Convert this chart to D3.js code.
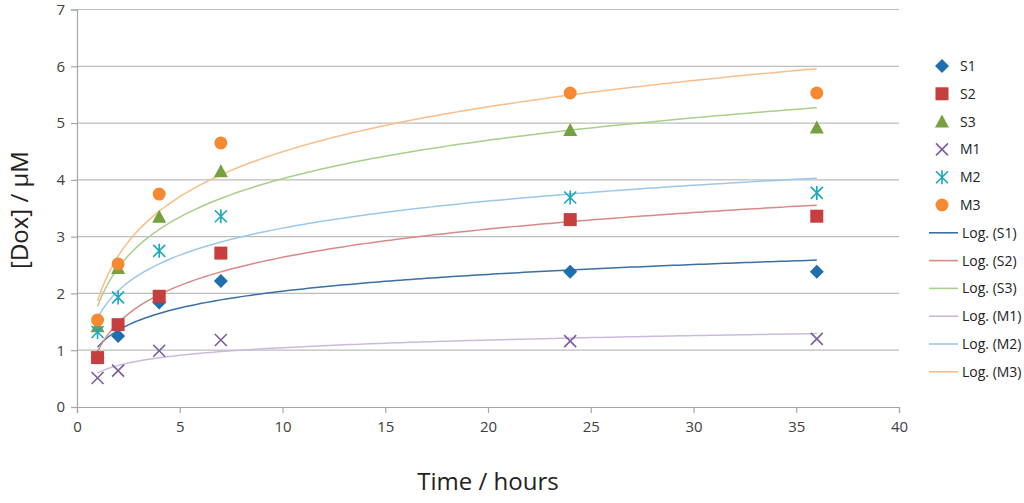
<!DOCTYPE html>
<html lang="en">
<head>
<meta charset="UTF-8">
<title>Dox release</title>
<script src="https://cdn.jsdelivr.net/npm/d3@7"></script>
<style>
body{margin:0;background:#fff;}
text{font-family:"Open Sans","Liberation Sans",sans-serif;}
</style>
</head>
<body>
<script>
// data
var times = [1, 2, 4, 7, 24, 36];
var S1 = [0.87, 1.25, 1.84, 2.22, 2.38, 2.38];
var S2 = [0.87, 1.45, 1.95, 2.71, 3.30, 3.36];
var S3 = [1.42, 2.45, 3.35, 4.15, 4.88, 4.92];
var M1 = [0.51, 0.64, 0.99, 1.18, 1.16, 1.20];
var M2 = [1.32, 1.93, 2.75, 3.36, 3.69, 3.77];
var M3 = [1.53, 2.52, 3.75, 4.65, 5.53, 5.53];
var seriesNames = ["S1", "S2", "S3", "M1", "M2", "M3"];
var xTicks = [0, 5, 10, 15, 20, 25, 30, 35, 40];
var yTicks = [0, 1, 2, 3, 4, 5, 6, 7];

var series = [
  {name: "S1", vals: S1, mark: "diamond",  col: "#1f6fae", line: "#3c6fa4"},
  {name: "S2", vals: S2, mark: "square",   col: "#c63e3e", line: "#d88a88"},
  {name: "S3", vals: S3, mark: "triangle", col: "#73a23e", line: "#a8d08a"},
  {name: "M1", vals: M1, mark: "cross",    col: "#7d5ca0", line: "#cdb9de"},
  {name: "M2", vals: M2, mark: "star",     col: "#1aa7c1", line: "#9cc8ec"},
  {name: "M3", vals: M3, mark: "circle",   col: "#f58a32", line: "#fbbd8a"}
];

var W = 1024, H = 503;
var svg = d3.select("body").append("svg").attr("width", W).attr("height", H);

var x = d3.scaleLinear().domain([0, 40]).range([77, 899]);
var y = d3.scaleLinear().domain([0, 7]).range([407, 9.5]);

// gridlines
svg.append("g").selectAll("line").data(yTicks.slice(1)).enter().append("line")
  .attr("x1", x(0)).attr("x2", x(40))
  .attr("y1", function(d){return y(d)}).attr("y2", function(d){return y(d)})
  .attr("stroke", "#bdbdbd").attr("stroke-width", 1.2);

var yAxis = svg.append("g").attr("transform", "translate(" + x(0) + ",0)")
  .call(d3.axisLeft(y).tickValues(yTicks).tickFormat(d3.format("d")).tickSize(6).tickPadding(6));
var xAxis = svg.append("g").attr("transform", "translate(0," + y(0) + ")")
  .call(d3.axisBottom(x).tickValues(xTicks).tickFormat(d3.format("d")).tickSize(6).tickPadding(8));
[yAxis, xAxis].forEach(function(a){
  a.select(".domain").attr("stroke", "#a6a6a6").attr("stroke-width", 1.2);
  a.selectAll(".tick line").attr("stroke", "#a6a6a6").attr("stroke-width", 1.2);
  a.selectAll("text").attr("fill", "#404040").style("font-size", "15px")
    .style("font-family", "'Open Sans','Liberation Sans',sans-serif");
});

// logarithmic trend lines (least squares on ln t, like the spreadsheet does)
function logFit(xs, ys){
  var lx = xs.map(Math.log);
  var mx = d3.mean(lx), my = d3.mean(ys);
  var b = d3.sum(lx, function(v, i){return (v - mx) * (ys[i] - my)}) /
          d3.sum(lx, function(v){return (v - mx) * (v - mx)});
  return {a: my - b * mx, b: b};
}
var curveX = d3.range(1, 36.01, 0.25);
var lineGen = d3.line().x(function(d){return x(d[0])}).y(function(d){return y(d[1])});
series.forEach(function(s){
  var f = logFit(times, s.vals);
  var pts = curveX.map(function(t){return [t, f.a + f.b * Math.log(t)]});
  svg.append("path").datum(pts).attr("d", lineGen)
    .attr("fill", "none").attr("stroke", s.line).attr("stroke-width", 1.5);
});

function drawMark(g, kind, col){
  if (kind === "diamond") g.append("path").attr("d", "M0,-7L7,0L0,7L-7,0Z").attr("fill", col);
  else if (kind === "square") g.append("rect").attr("x", -6.5).attr("y", -6.5).attr("width", 13).attr("height", 13).attr("fill", col);
  else if (kind === "triangle") g.append("path").attr("d", "M0,-7L7,6L-7,6Z").attr("fill", col);
  else if (kind === "circle") g.append("circle").attr("r", 6.5).attr("fill", col);
  else if (kind === "cross") g.append("path").attr("d", "M-6,-6L6,6M-6,6L6,-6").attr("stroke", col).attr("stroke-width", 1.6);
  else if (kind === "star") g.append("path").attr("d", "M-6,-6L6,6M-6,6L6,-6M0,-7L0,7").attr("stroke", col).attr("stroke-width", 1.6);
}

series.forEach(function(s){
  var g = svg.append("g");
  s.vals.forEach(function(v, i){
    var m = g.append("g").attr("transform", "translate(" + x(times[i]) + "," + y(v) + ")");
    drawMark(m, s.mark, s.col);
  });
});

// axis titles
svg.append("text").attr("x", x(20)).attr("y", 490).attr("text-anchor", "middle")
  .style("font-size", "24px").attr("fill", "#222").text("Time / hours");
svg.append("text").attr("transform", "translate(28,210) rotate(-90)").attr("text-anchor", "middle")
  .style("font-size", "24px").attr("fill", "#222").text("[Dox] / μM");

// legend
var leg = svg.append("g");
var rowH = 27.8, legTop = 66;
series.forEach(function(s, i){
  var g = leg.append("g").attr("transform", "translate(942," + (legTop + i * rowH) + ")");
  drawMark(g, s.mark, s.col);
  leg.append("text").attr("x", 960).attr("y", legTop + i * rowH + 5)
    .style("font-size", "14px").attr("fill", "#222").text(s.name);
});
series.forEach(function(s, i){
  var yy = legTop + (i + 6) * rowH;
  leg.append("line").attr("x1", 929).attr("x2", 958).attr("y1", yy).attr("y2", yy)
    .attr("stroke", s.line).attr("stroke-width", 1.6);
  leg.append("text").attr("x", 962).attr("y", yy + 5)
    .style("font-size", "14px").attr("fill", "#222").text("Log. (" + s.name + ")");
});
</script>
</body>
</html>
